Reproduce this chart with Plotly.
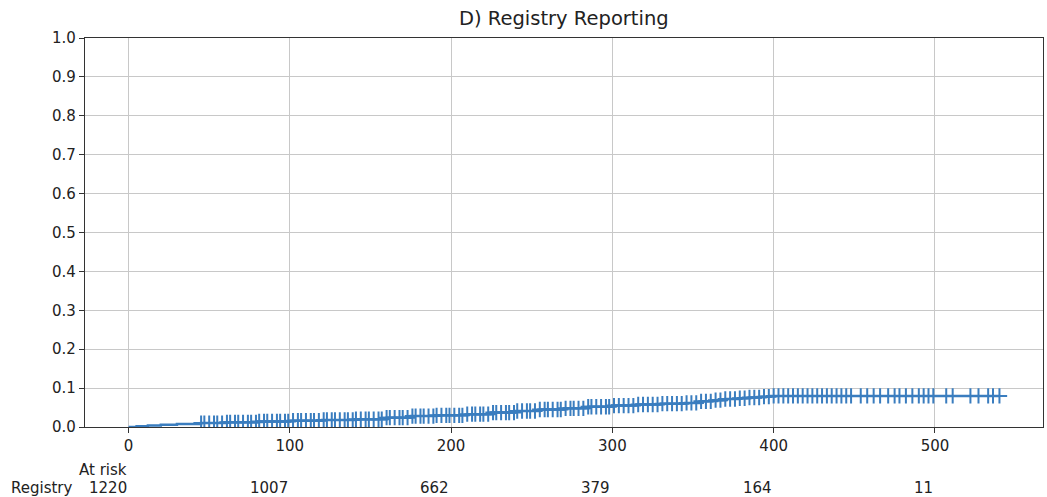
import numpy as np
import plotly.graph_objects as go

# Step function (cumulative incidence)
event_times = [0, 5, 12, 20, 30, 45, 60, 80, 100, 120, 140, 160, 175, 190, 210, 225,
               240, 255, 270, 285, 300, 315, 330, 345, 355, 362, 370, 378, 385, 392, 398, 540]
event_values = [0.0, 0.002, 0.004, 0.006, 0.008, 0.010, 0.012, 0.014, 0.016, 0.018, 0.020,
                0.024, 0.028, 0.030, 0.033, 0.037, 0.041, 0.045, 0.048, 0.052, 0.055, 0.058,
                0.060, 0.062, 0.066, 0.069, 0.072, 0.074, 0.076, 0.078, 0.080, 0.080]

# Censoring times (approximate, read from the tick marks)
censor_times = [45, 47, 50, 53, 55, 58, 61, 63, 66, 68, 71, 74, 76, 79, 81, 84, 86, 89, 92, 94,
                97, 99, 102, 105, 107, 110, 113, 115, 118, 121, 123, 126, 128, 131, 134, 136,
                139, 141, 144, 147, 149, 152, 155, 157, 160, 162, 165, 168, 170, 173, 176, 178,
                181, 183, 186, 189, 191, 194, 197, 199, 202, 205, 207, 210, 213, 215, 218, 220,
                223, 226, 228, 231, 234, 236, 239, 241, 244, 247, 249, 252, 255, 258, 260, 263,
                266, 268, 271, 274, 276, 279, 282, 285, 287, 290, 293, 296, 298, 301, 304, 307,
                310, 313, 316, 319, 322, 325, 328, 331, 334, 337, 340, 343, 346, 349, 352, 355,
                358, 361, 364, 367, 370, 373, 376, 379, 382, 385, 388, 391, 394, 397, 400, 403,
                406, 409, 412, 415, 418, 421, 424, 427, 430, 433, 436, 439, 442, 445, 448, 454,
                458, 462, 466, 471, 475, 478, 482, 486, 490, 493, 496, 499, 507, 511, 522, 527,
                533, 536, 540]

tick_vals = [0, 100, 200, 300, 400, 500]
at_risk = [1220, 1007, 662, 379, 164, 11]
row_label = "Registry"
title = "D) Registry Reporting"

color = "#3a7dbf"

et = np.array(event_times)
ev = np.array(event_values)
ct = np.array(censor_times)
idx = np.searchsorted(et, ct, side="right") - 1
cv = ev[idx]

fig = go.Figure()
fig.add_trace(go.Scatter(x=event_times, y=event_values, mode="lines",
                         line=dict(color=color, width=2.5, shape="hv"),
                         showlegend=False, hoverinfo="skip"))
fig.add_trace(go.Scatter(x=ct, y=cv, mode="markers",
                         marker=dict(symbol="cross-thin", size=11,
                                     line=dict(color=color, width=2)),
                         showlegend=False))

font_family = "DejaVu Sans"
annotations = [
    dict(text=title, x=0.5, y=1.0, xref="paper", yref="paper", xanchor="center",
         yanchor="bottom", yshift=6, showarrow=False,
         font=dict(family=font_family, size=19.5, color="#222")),
    dict(text="At risk", x=0, y=-0.1105, xref="x", yref="paper", xanchor="right",
         yanchor="middle", showarrow=False, font=dict(family=font_family, size=15, color="#222")),
    dict(text=row_label, x=-0.0104, y=-0.157, xref="paper", yref="paper", xanchor="right",
         yanchor="middle", showarrow=False, font=dict(family=font_family, size=15, color="#222")),
]
for t, n in zip(tick_vals, at_risk):
    annotations.append(dict(text=str(n), x=t, y=-0.157, xref="x", yref="paper",
                            xanchor="right", yanchor="middle", showarrow=False,
                            font=dict(family=font_family, size=15, color="#222")))

fig.update_layout(
    width=1047, height=497,
    margin=dict(l=85, r=4, t=38, b=70),
    paper_bgcolor="white", plot_bgcolor="white",
    font=dict(family=font_family, size=15, color="#222"),
    annotations=annotations,
    xaxis=dict(range=[-27, 567], tickvals=tick_vals, showgrid=True,
               gridcolor="#c8c8c8", gridwidth=1, zeroline=False,
               showline=True, linecolor="#333", linewidth=1.2, mirror=True,
               ticks="outside", ticklen=5, tickcolor="#333",
               tickfont=dict(family=font_family, size=15, color="#222")),
    yaxis=dict(range=[0, 1], tickvals=[i / 10 for i in range(11)],
               ticktext=[f"{i / 10:.1f}" for i in range(11)],
               showgrid=True, gridcolor="#c8c8c8", gridwidth=1, zeroline=False,
               showline=True, linecolor="#333", linewidth=1.2, mirror=True,
               ticks="outside", ticklen=5, tickcolor="#333",
               tickfont=dict(family=font_family, size=15, color="#222")),
)

fig.write_html("out.html")
